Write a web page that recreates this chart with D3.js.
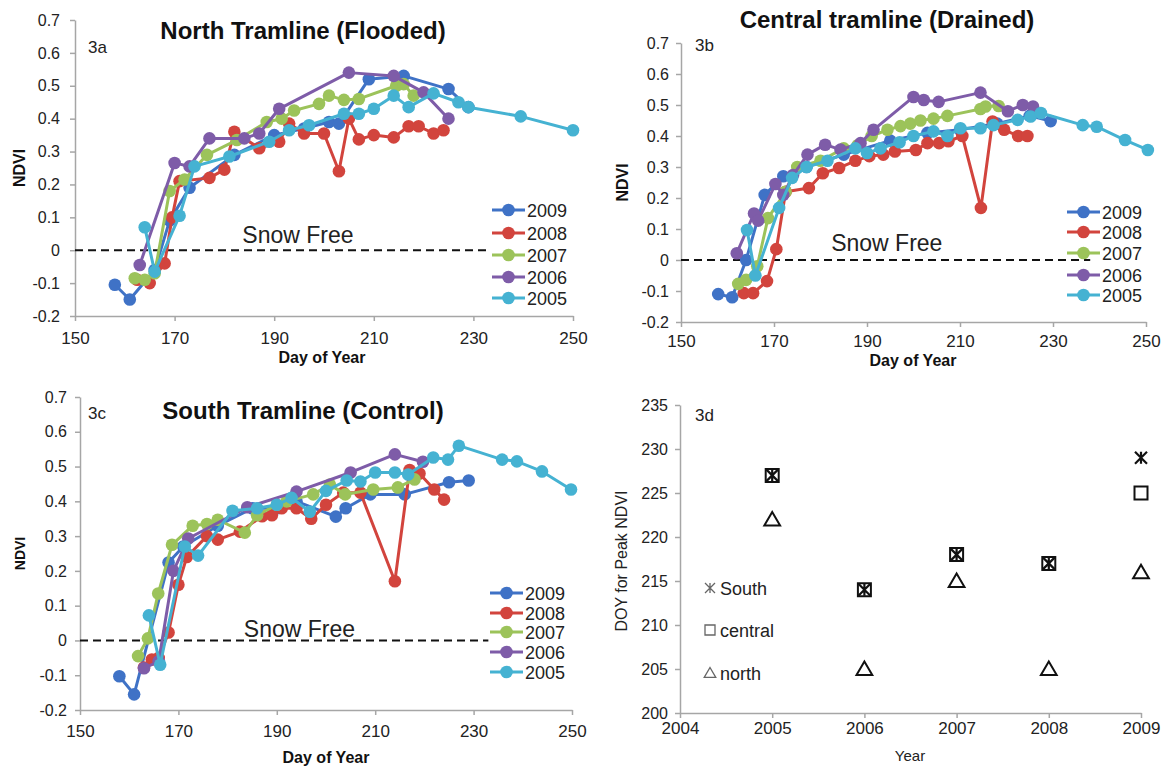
<!DOCTYPE html>
<html><head><meta charset="utf-8">
<script src="https://cdn.jsdelivr.net/npm/d3@7"></script>
<style>
body{margin:0;background:#fff}
svg{display:block}
text{font-family:"Liberation Sans",Arial,sans-serif}
</style>
</head><body>
<svg id="c" width="1167" height="767"></svg>
<script>
// ---------- DATA ----------
const seriesNames = ["2009","2008","2007","2006","2005"];
const seriesColors = ["#3f72c6","#d2443d","#9cc35a","#7e5ca8","#45b2d2"];
const dayTicks = [150,170,190,210,230,250];
const ndviTicks = [-0.2,-0.1,0,0.1,0.2,0.3,0.4,0.5,0.6,0.7];

const north2009 = [[158,-0.105],[161,-0.15],[166,-0.06],[169,0.09],[173,0.19],[182,0.29],[190,0.35],[196,0.37],[201,0.39],[203,0.385],[209,0.52],[216,0.53],[225,0.49],[229,0.435]];
const north2008 = [[162.5,-0.09],[165,-0.10],[168,-0.04],[169.5,0.10],[171,0.21],[177,0.22],[180,0.245],[182,0.36],[187,0.31],[191,0.33],[193,0.385],[196,0.355],[200,0.355],[203,0.24],[205,0.40],[207,0.337],[210,0.35],[214,0.343],[217,0.377],[219,0.377],[222,0.355],[224,0.365]];
const north2007 = [[162,-0.085],[164,-0.09],[166,-0.07],[169,0.18],[172,0.215],[176.5,0.29],[182.5,0.335],[188.5,0.39],[191.5,0.40],[194,0.425],[199,0.445],[201,0.47],[204,0.457],[207,0.46],[214.5,0.50],[216,0.505],[218,0.47]];
const north2006 = [[163,-0.045],[170,0.265],[173,0.255],[177,0.34],[184,0.34],[187,0.355],[191,0.43],[205,0.54],[214,0.53],[220,0.48],[225,0.40]];
const north2005 = [[164,0.07],[166,-0.065],[171,0.105],[174,0.255],[181,0.285],[189,0.33],[193,0.365],[197,0.38],[204,0.415],[207,0.415],[210,0.43],[214,0.47],[217,0.435],[222,0.477],[227,0.45],[229,0.435],[239.5,0.407],[250,0.365]];

const central2009 = [[158,-0.11],[161,-0.12],[164,0.0],[168,0.21],[172,0.27],[177,0.30],[185,0.34],[195,0.385],[203,0.41],[210,0.42],[218,0.44],[225,0.465],[229.5,0.448]];
const central2008 = [[163.5,-0.107],[165.5,-0.107],[168.5,-0.068],[170.5,0.035],[172.5,0.22],[177.5,0.232],[180.5,0.28],[184,0.297],[187.5,0.32],[190.5,0.335],[193.5,0.34],[196,0.35],[200.5,0.355],[203,0.377],[205.5,0.377],[207.5,0.383],[210.5,0.40],[214.5,0.168],[217,0.447],[219.5,0.42],[222.5,0.40],[224.5,0.40]];
const central2007 = [[162.3,-0.077],[164,-0.064],[166.4,-0.02],[168.7,0.135],[172.5,0.22],[175,0.30],[180,0.32],[185,0.36],[188,0.37],[191,0.40],[194.4,0.42],[197.2,0.432],[199.3,0.44],[201.5,0.45],[204.3,0.456],[207.3,0.465],[214.4,0.487],[215.5,0.495],[218.3,0.497]];
const central2006 = [[162,0.022],[165.7,0.15],[166.6,0.127],[170.3,0.245],[172,0.21],[174.1,0.274],[177.2,0.34],[181,0.372],[184.3,0.356],[188.6,0.377],[191.4,0.42],[200,0.526],[202.2,0.516],[205.4,0.51],[214.4,0.54],[220.3,0.48],[223.5,0.50],[225.7,0.495]];
const central2005 = [[164.2,0.097],[166,-0.05],[171.1,0.168],[173.9,0.265],[177,0.30],[181.5,0.32],[187.5,0.36],[190,0.345],[192.9,0.36],[197,0.38],[200,0.40],[204.3,0.415],[207.3,0.40],[210.1,0.425],[214.4,0.425],[217.2,0.435],[222.4,0.452],[225.2,0.463],[227.4,0.474],[236.4,0.435],[239.4,0.43],[245.5,0.387],[250.4,0.355]];

const south2009 = [[158,-0.103],[161,-0.155],[168,0.224],[171,0.27],[178,0.33],[185,0.38],[190,0.38],[194,0.40],[202,0.356],[204,0.38],[209,0.42],[216,0.42],[225,0.455],[229,0.46]];
const south2008 = [[163,-0.078],[164.6,-0.055],[166,-0.05],[168,0.023],[170,0.16],[171.7,0.24],[175.8,0.30],[178,0.29],[182.5,0.313],[187,0.357],[189,0.36],[191,0.38],[194,0.38],[197,0.35],[200,0.39],[203.5,0.425],[207,0.425],[214,0.17],[217,0.49],[219,0.48],[222,0.434],[224,0.405]];
const south2007 = [[161.8,-0.045],[163.8,0.006],[165.9,0.135],[168.7,0.275],[172.9,0.33],[175.8,0.335],[178,0.347],[183.5,0.31],[186,0.36],[190,0.39],[192,0.40],[197.4,0.42],[200.8,0.448],[203.9,0.42],[209.6,0.434],[214.6,0.44],[218,0.463]];
const south2006 = [[163,-0.08],[166,-0.06],[169,0.2],[172,0.293],[184,0.383],[194,0.428],[205,0.483],[214,0.535],[219.7,0.514]];
const south2005 = [[164,0.072],[166.3,-0.07],[171.3,0.27],[174,0.244],[181,0.373],[186,0.38],[190,0.39],[193,0.41],[196.7,0.37],[200,0.43],[204.2,0.46],[207,0.457],[210,0.483],[214,0.483],[216.7,0.477],[221.8,0.526],[224.8,0.52],[227,0.56],[235.8,0.52],[238.8,0.515],[243.9,0.486],[249.8,0.434]];

const peakYears = [2005,2006,2007,2008,2009];
const peakSouth = [227,214,218,217,229];
const peakCentral = [227,214,218,217,225];
const peakNorth = [222,205,215,205,216];
const yearTicks = [2004,2005,2006,2007,2008,2009];
const doyTicks = [200,205,210,215,220,225,230,235];

// ---------- DRAW ----------
const svg = d3.select("#c");
const AXIS = "#a6a6a6", TXT = "#222";

function styleAxis(g, fs){
  g.select(".domain").attr("stroke",AXIS).attr("stroke-width",1.5);
  g.selectAll(".tick line").attr("stroke",AXIS).attr("stroke-width",1.5);
  g.selectAll(".tick text").attr("fill",TXT).style("font-size",fs+"px").style("font-family",'"Liberation Sans",Arial,sans-serif');
}

function ndviPanel(cfg){
  const x = d3.scaleLinear().domain([150,250]).range(cfg.xr);
  const y = d3.scaleLinear().domain([-0.2,0.7]).range(cfg.yr);
  const g = svg.append("g");
  const xa = g.append("g").attr("transform",`translate(0,${cfg.yr[0]})`)
    .call(d3.axisBottom(x).tickValues(dayTicks).tickSize(5).tickPadding(cfg.xpad).tickSizeOuter(0).tickFormat(d3.format("d")));
  styleAxis(xa,17);
  const ya = g.append("g").attr("transform",`translate(${cfg.xr[0]},0)`)
    .call(d3.axisLeft(y).tickValues(ndviTicks).tickSize(5).tickPadding(cfg.ypad).tickSizeOuter(0)
      .tickFormat(d => Math.abs(d)<1e-9 ? "0" : d.toFixed(1)));
  styleAxis(ya,16);

  // snow free line
  g.append("line").attr("x1",x(150)).attr("x2",x(cfg.dashEnd)).attr("y1",y(0)).attr("y2",y(0))
    .attr("stroke","#111").attr("stroke-width",2).attr("stroke-dasharray","8,5");
  g.append("text").attr("x",x(cfg.snowDay)).attr("y",cfg.snowY).text("Snow Free")
    .attr("fill",TXT).style("font-size","23px");

  const line = d3.line().x(d=>x(d[0])).y(d=>y(d[1]));
  cfg.series.forEach((s,i)=>{
    const c = seriesColors[i];
    g.append("path").datum(s).attr("d",line).attr("fill","none").attr("stroke",c).attr("stroke-width",3).attr("stroke-linejoin","round");
    g.selectAll(null).data(s).enter().append("circle").attr("cx",d=>x(d[0])).attr("cy",d=>y(d[1])).attr("r",6.3).attr("fill",c);
  });

  // legend
  seriesNames.forEach((n,i)=>{
    const ly = cfg.legY[i], lx = cfg.legX;
    g.append("line").attr("x1",lx).attr("x2",lx+33).attr("y1",ly).attr("y2",ly).attr("stroke",seriesColors[i]).attr("stroke-width",3);
    g.append("circle").attr("cx",lx+16.5).attr("cy",ly).attr("r",6.3).attr("fill",seriesColors[i]);
    g.append("text").attr("x",lx+35).attr("y",ly+6.5).text(n).attr("fill",TXT).style("font-size","18px");
  });

  g.append("text").attr("x",cfg.titleX).attr("y",cfg.titleY).attr("text-anchor","middle").text(cfg.title)
    .attr("fill","#111").style("font-size","24px").style("font-weight","bold");
  g.append("text").attr("x",cfg.labX).attr("y",cfg.labY).text(cfg.lab).attr("fill",TXT).style("font-size","17px");
  g.append("text").attr("transform",`translate(${cfg.ndviX},${(cfg.yr[0]+cfg.yr[1])/2}) rotate(-90)`)
    .attr("text-anchor","middle").text("NDVI").attr("fill","#111").style("font-size",cfg.ndviFs+"px").style("font-weight","bold");
  g.append("text").attr("x",cfg.xlabX).attr("y",cfg.xlabY).attr("text-anchor","middle").text("Day of Year")
    .attr("fill","#111").style("font-size","16px").style("font-weight","bold");
}

ndviPanel({xr:[75,573], yr:[316,20], xpad:11, ypad:10, dashEnd:232.7, snowDay:183.6, snowY:243,
  series:[north2009,north2008,north2007,north2006,north2005], legX:492, legY:[210,233,255,277,298],
  title:"North Tramline (Flooded)", titleX:303, titleY:39, lab:"3a", labX:88, labY:53, ndviX:25, ndviFs:16,
  xlabX:322, xlabY:363});
ndviPanel({xr:[681,1146], yr:[322,43], xpad:8, ypad:7, dashEnd:238, snowDay:182.3, snowY:251,
  series:[central2009,central2008,central2007,central2006,central2005], legX:1067, legY:[212,232,253,275,295],
  title:"Central tramline (Drained)", titleX:887, titleY:28, lab:"3b", labX:695, labY:51, ndviX:628, ndviFs:16,
  xlabX:913, xlabY:366});
ndviPanel({xr:[80,572], yr:[710,397], xpad:10, ypad:8, dashEnd:233, snowDay:183.3, snowY:637,
  series:[south2009,south2008,south2007,south2006,south2005], legX:490, legY:[593,613,632,652,672],
  title:"South Tramline (Control)", titleX:303, titleY:419, lab:"3c", labX:88, labY:419, ndviX:25, ndviFs:14,
  xlabX:326, xlabY:763});

// ---------- Panel 3d ----------
(function(){
  const x = d3.scaleLinear().domain([2004,2009]).range([680,1141]);
  const y = d3.scaleLinear().domain([200,235]).range([713,405]);
  const g = svg.append("g");
  const xa = g.append("g").attr("transform","translate(0,713)")
    .call(d3.axisBottom(x).tickValues(yearTicks).tickSize(5).tickPadding(4).tickSizeOuter(0).tickFormat(d3.format("d")));
  styleAxis(xa,17);
  const ya = g.append("g").attr("transform","translate(680,0)")
    .call(d3.axisLeft(y).tickValues(doyTicks).tickSize(5).tickPadding(7).tickSizeOuter(0).tickFormat(d3.format("d")));
  styleAxis(ya,16);

  const sq = s => `M${-s},${-s}H${s}V${s}H${-s}Z`;
  const tri = s => `M0,${-s}L${s*1.05},${s*0.8}L${-s*1.05},${s*0.8}Z`;
  const ast = s => `M0,${-s}V${s}M${-s},${-s}L${s},${s}M${s},${-s}L${-s},${s}`;

  g.selectAll(null).data(peakYears).enter().append("path")
    .attr("transform",(d,i)=>`translate(${x(d)},${y(peakCentral[i])})`).attr("d",sq(6.5))
    .attr("fill","none").attr("stroke","#111").attr("stroke-width",2);
  g.selectAll(null).data(peakYears).enter().append("path")
    .attr("transform",(d,i)=>`translate(${x(d)},${y(peakSouth[i])})`).attr("d",ast(6))
    .attr("fill","none").attr("stroke","#111").attr("stroke-width",2.2);
  g.selectAll(null).data(peakYears).enter().append("path")
    .attr("transform",(d,i)=>`translate(${x(d)},${y(peakNorth[i])})`).attr("d",tri(7.5))
    .attr("fill","none").attr("stroke","#111").attr("stroke-width",2);

  // legend
  const lg = [["South",ast(5),588],["central",sq(5),630],["north",tri(5.5),673]];
  lg.forEach(l=>{
    g.append("path").attr("transform",`translate(710,${l[2]})`).attr("d",l[1]).attr("fill","none").attr("stroke","#666").attr("stroke-width",1.3);
    g.append("text").attr("x",720).attr("y",l[2]+6.5).text(l[0]).attr("fill",TXT).style("font-size","18px");
  });

  g.append("text").attr("x",695).attr("y",421).text("3d").attr("fill",TXT).style("font-size","17px");
  g.append("text").attr("transform","translate(627,561) rotate(-90)").attr("text-anchor","middle")
    .text("DOY for Peak NDVI").attr("fill",TXT).style("font-size","16px");
  g.append("text").attr("x",910).attr("y",761).attr("text-anchor","middle").text("Year").attr("fill",TXT).style("font-size","15px");
})();
</script>
</body></html>
